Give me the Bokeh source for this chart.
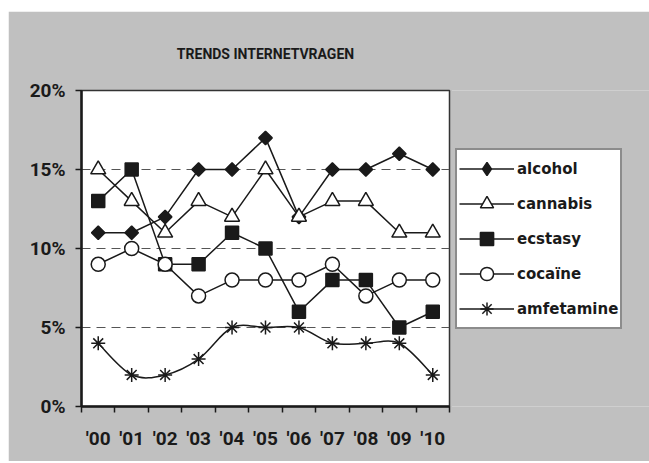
import numpy as np
from bokeh.plotting import figure
from bokeh.layouts import row
from bokeh.models import Range1d, FixedTicker, Legend, LegendItem
from bokeh.embed import file_html
from bokeh.resources import INLINE

years = ["'00", "'01", "'02", "'03", "'04", "'05", "'06", "'07", "'08", "'09", "'10"]
alcohol = [11, 11, 12, 15, 15, 17, 12, 15, 15, 16, 15]
cannabis = [15, 13, 11, 13, 12, 15, 12, 13, 13, 11, 11]
ecstasy = [13, 15, 9, 9, 11, 10, 6, 8, 8, 5, 6]
cocaine = [9, 10, 9, 7, 8, 8, 8, 9, 7, 8, 8]
amfetamine = [4, 2, 2, 3, 5, 5, 5, 4, 4, 4, 2]
y_ticks = [0, 5, 10, 15, 20]

GRAY = "#c0c0c0"
INK = "#1a1a1a"
FONT = "Roboto"

xs = list(range(len(years)))

p = figure(width=444, height=450, output_backend="svg", toolbar_location=None,
           x_range=Range1d(-0.5, len(years) - 0.5), y_range=Range1d(0, 20),
           min_border_left=73, min_border_right=3, min_border_top=79, min_border_bottom=55)
p.margin = (11, 0, 2, 8)
p.background_fill_color = "white"
p.border_fill_color = GRAY
p.outline_line_color = "#333333"
p.outline_line_width = 1.5

p.title.text = "TRENDS INTERNETVRAGEN"
p.title.align = "center"
p.title.vertical_align = "top"
p.title.text_font = FONT
p.title.text_font_size = "14px"
p.title.text_font_style = "bold"
p.title.text_color = INK
p.title.standoff = 54

# x axis
xa = p.xaxis[0]
xa.ticker = FixedTicker(ticks=xs, minor_ticks=[i - 0.5 for i in range(len(years) + 1)])
xa.major_label_overrides = {i: y for i, y in enumerate(years)}
xa.major_tick_out = 0
xa.major_tick_in = 0
xa.minor_tick_out = 6
xa.minor_tick_in = 0
xa.minor_tick_line_color = INK
xa.minor_tick_line_width = 1.5
xa.axis_line_color = INK
xa.axis_line_width = 2.5
xa.major_label_text_font = FONT
xa.major_label_text_font_size = "19px"
xa.major_label_text_font_style = "bold"
xa.major_label_text_color = INK
xa.major_label_standoff = 14

ya = p.yaxis[0]
ya.ticker = FixedTicker(ticks=y_ticks, minor_ticks=[])
ya.major_label_overrides = {t: f"{t}%" for t in y_ticks}
ya.major_tick_out = 6
ya.major_tick_in = 0
ya.major_tick_line_color = INK
ya.major_tick_line_width = 1.5
ya.axis_line_color = INK
ya.axis_line_width = 2.5
ya.major_label_text_font = FONT
ya.major_label_text_font_size = "19px"
ya.major_label_text_font_style = "bold"
ya.major_label_text_color = INK
ya.major_label_standoff = 10

p.xgrid.visible = False
p.ygrid.ticker = FixedTicker(ticks=[5, 10, 15])
p.ygrid.grid_line_color = "#555555"
p.ygrid.grid_line_dash = "9 6"
p.ygrid.grid_line_width = 1

# legend panel (separate figure so that the legend is not clipped by the plot frame)
q = figure(width=198, height=450, output_backend="svg", toolbar_location=None,
           x_range=Range1d(-0.5, len(years) - 0.5), y_range=Range1d(-100, -80),
           min_border=0)
q.margin = (11, 0, 2, -1)
q.axis.visible = False
q.grid.visible = False
q.outline_line_color = None
q.background_fill_color = GRAY
q.border_fill_color = GRAY

LW = 1.5
items = []

def series(name, vals, marker, fill, size, angle=0.0, smooth=False, legend_marker=None):
    if not smooth:
        p.line(xs, vals, line_color=INK, line_width=LW)
    p.scatter(xs, vals, marker=marker, size=size, fill_color=fill,
              line_color=INK, line_width=LW, angle=angle)
    # legend proxies (data lies outside the legend panel's visible range)
    l1 = q.line(xs, vals, line_color=INK, line_width=LW)
    l2 = q.scatter(xs, vals, marker=legend_marker or marker, fill_color=fill,
                   line_color=INK, line_width=LW)
    items.append(LegendItem(label=name, renderers=[l1, l2]))

series("alcohol", alcohol, "square", INK, 9.5, np.pi / 4, legend_marker="diamond")
series("cannabis", cannabis, "triangle", "white", 15)
series("ecstasy", ecstasy, "square", INK, 13)
series("cocaïne", cocaine, "circle", "white", 14)
series("amfetamine", amfetamine, "asterisk", None, 14, smooth=True)

# amfetamine: smoothed curve (Catmull-Rom -> cubic Bezier) built from the data
pts = np.array(amfetamine, dtype=float)
xv = np.array(xs, dtype=float)
n = len(pts)
x0, y0, x1, y1, cx0, cy0, cx1, cy1 = [], [], [], [], [], [], [], []
for i in range(n - 1):
    im1 = max(i - 1, 0)
    ip2 = min(i + 2, n - 1)
    x0.append(xv[i]); y0.append(pts[i])
    x1.append(xv[i + 1]); y1.append(pts[i + 1])
    cx0.append(xv[i] + (xv[i + 1] - xv[im1]) / 6)
    cy0.append(pts[i] + (pts[i + 1] - pts[im1]) / 6)
    cx1.append(xv[i + 1] - (xv[ip2] - xv[i]) / 6)
    cy1.append(pts[i + 1] - (pts[ip2] - pts[i]) / 6)
p.bezier(x0=x0, y0=y0, x1=x1, y1=y1, cx0=cx0, cy0=cy0, cx1=cx1, cy1=cy1,
         line_color=INK, line_width=LW)

legend = Legend(items=items, location=(4, 77))
legend.glyph_width = 55
legend.glyph_height = 33
legend.label_height = 33
legend.spacing = 2
legend.padding = 2
legend.margin = 0
legend.label_standoff = 3
legend.label_text_font = "DejaVu Sans"
legend.label_text_font_size = "15px"
legend.label_text_font_style = "bold"
legend.label_text_color = INK
legend.border_line_color = INK
legend.border_line_width = 2
legend.background_fill_color = "white"
legend.background_fill_alpha = 1
q.add_layout(legend, "center")

layout = row(p, q, spacing=0)
open("out.html", "w").write(file_html(layout, INLINE))
